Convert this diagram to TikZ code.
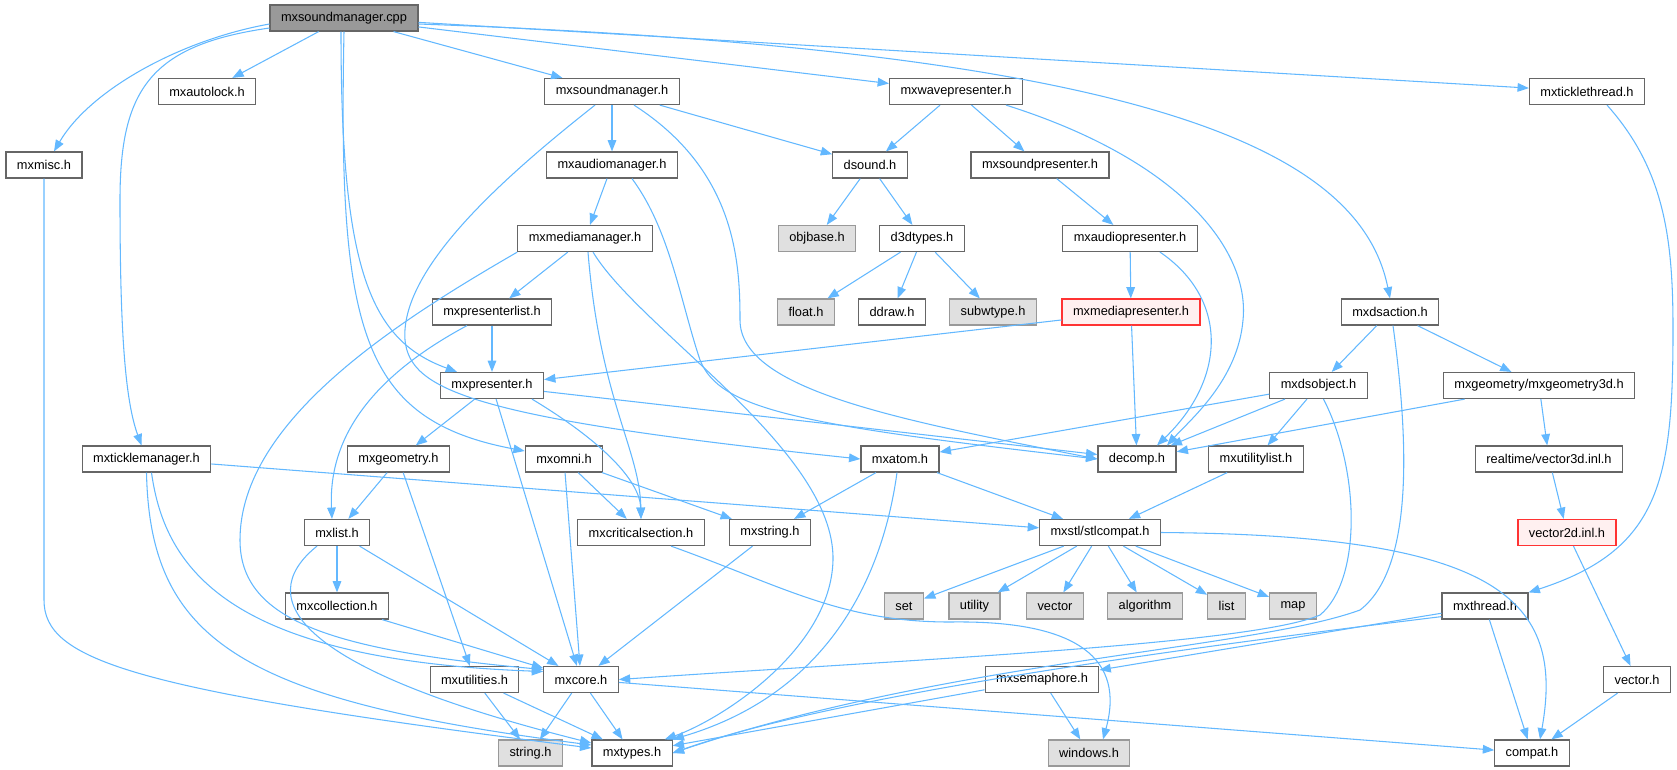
\documentclass[tikz,border=0pt]{standalone}
\usepackage{fontspec}
\setmainfont{Liberation Sans}
\usepackage{xcolor}
\usetikzlibrary{arrows.meta,calc}
\definecolor{edgeblue}{HTML}{63B8FF}
\definecolor{boxgray}{HTML}{666666}
\definecolor{sysfill}{HTML}{E0E0E0}
\definecolor{sysdraw}{HTML}{999999}
\definecolor{redfill}{HTML}{FFF0F0}
\definecolor{reddraw}{HTML}{FF3333}
\tikzstyle{hdr} = [draw=boxgray,fill=white,line width=0.9pt,rectangle,
  minimum height=19.5pt,inner xsep=8.2pt,inner ysep=0pt,
  font=\fontsize{9.6}{11}\selectfont]
\tikzstyle{syshdr} = [hdr,draw=sysdraw,fill=sysfill]
\tikzstyle{redhdr} = [hdr,draw=reddraw,fill=redfill]
\tikzstyle{roothdr} = [hdr,fill=sysdraw]
\tikzstyle{inc} = [draw=edgeblue,line width=0.8pt,
  -{Triangle[length=8.5pt,width=6.5pt]}]

\begin{document}
\begin{tikzpicture}[x=0.75pt,y=-0.75pt]
    \useasboundingbox (0,0) rectangle (1677,769);
    \node [roothdr] (cpp) at (344,18) {mxsoundmanager.cpp};
    \node [hdr] (autolock) at (207,91.5) {mxautolock.h};
    \node [hdr] (sndmgr) at (612,91.5) {mxsoundmanager.h};
    \node [hdr] (wavepres) at (956,91.5) {mxwavepresenter.h};
    \node [hdr] (tickthread) at (1587,91.5) {mxticklethread.h};
    \node [hdr] (misc) at (44,165) {mxmisc.h};
    \node [hdr] (audiomgr) at (612,165) {mxaudiomanager.h};
    \node [hdr] (dsound) at (870,165) {dsound.h};
    \node [hdr] (sndpres) at (1040,165) {mxsoundpresenter.h};
    \node [hdr] (mediamgr) at (585,238.5) {mxmediamanager.h};
    \node [syshdr] (objbase) at (817,238.5) {objbase.h};
    \node [hdr] (d3dtypes) at (922,238.5) {d3dtypes.h};
    \node [hdr] (audiopres) at (1130,238.5) {mxaudiopresenter.h};
    \node [hdr] (preslist) at (492,312) {mxpresenterlist.h};
    \node [syshdr] (floath) at (806,312) {float.h};
    \node [hdr] (ddraw) at (892,312) {ddraw.h};
    \node [syshdr] (subwtype) at (993,312) {subwtype.h};
    \node [redhdr] (mediapres) at (1131,312) {mxmediapresenter.h};
    \node [hdr] (dsaction) at (1390,312) {mxdsaction.h};
    \node [hdr] (presenter) at (492,385.5) {mxpresenter.h};
    \node [hdr] (dsobject) at (1318.5,385.5) {mxdsobject.h};
    \node [hdr] (geom3d) at (1539,385.5) {mxgeometry/mxgeometry3d.h};
    \node [hdr] (tickmgr) at (146.5,459) {mxticklemanager.h};
    \node [hdr] (geometry) at (398.5,459) {mxgeometry.h};
    \node [hdr] (omni) at (564,459) {mxomni.h};
    \node [hdr] (atom) at (900,459) {mxatom.h};
    \node [hdr] (decomp) at (1137,459) {decomp.h};
    \node [hdr] (utillist) at (1256,459) {mxutilitylist.h};
    \node [hdr] (vec3d) at (1549,459) {realtime/vector3d.inl.h};
    \node [hdr] (mxlist) at (337,532.5) {mxlist.h};
    \node [hdr] (critsec) at (641,532.5) {mxcriticalsection.h};
    \node [hdr] (mxstring) at (770,532.5) {mxstring.h};
    \node [hdr] (stlcompat) at (1100,532.5) {mxstl/stlcompat.h};
    \node [redhdr] (vec2d) at (1567,532.5) {vector2d.inl.h};
    \node [hdr] (collection) at (337,606) {mxcollection.h};
    \node [syshdr] (stdset) at (904,606) {set};
    \node [syshdr] (stdutility) at (974.5,606) {utility};
    \node [syshdr] (stdvector) at (1055,606) {vector};
    \node [syshdr] (stdalgo) at (1145,606) {algorithm};
    \node [syshdr] (stdlist) at (1226.5,606) {list};
    \node [syshdr] (stdmap) at (1293,606) {map};
    \node [hdr] (thread) at (1485,606) {mxthread.h};
    \node [hdr] (utilities) at (474.5,679.5) {mxutilities.h};
    \node [hdr] (core) at (581,679.5) {mxcore.h};
    \node [hdr] (semaphore) at (1042,679.5) {mxsemaphore.h};
    \node [hdr] (vectorh) at (1637,679.5) {vector.h};
    \node [syshdr] (stringh) at (530.5,753) {string.h};
    \node [hdr] (types) at (632,753) {mxtypes.h};
    \node [syshdr] (windows) at (1089,753) {windows.h};
    \node [hdr] (compat) at (1532,753) {compat.h};

    % includes of the .cpp
    \draw [inc] ($(cpp.west)+(0,6)$) .. controls (180,40) and (90,90) .. ($(misc.north)+(10,0)$);
    \draw [inc] ($(cpp.west)+(0,10)$) .. controls (150,45) and (120,90) .. (120,200)
      .. controls (120,330) and (125,400) .. ($(tickmgr.north)+(-5,0)$);
    \draw [inc] (cpp) -- (autolock);
    \draw [inc] ($(cpp.south)+(-3,0)$) .. controls (341,270) and (370,340) .. ($(presenter.north)+(-35,0)$);
    \draw [inc] (cpp.south) .. controls (338,330) and (360,420) .. ($(omni.west)+(0,-8)$);
    \draw [inc] (cpp) -- (sndmgr);
    \draw [inc] (cpp) -- (wavepres);
    \draw [inc] (cpp) -- (tickthread);
    \draw [inc] ($(cpp.east)+(0,6)$) .. controls (1150,50) and (1360,150) .. (dsaction.north);

    \draw [inc] (sndmgr) -- (audiomgr);
    \draw [inc] (sndmgr) -- (dsound);
    \draw [inc] ($(sndmgr.south)+(22,0)$) .. controls (735,170) and (740,260) .. (740,320)
      .. controls (740,390) and (900,420) .. (decomp.west);
    \draw [inc] ($(sndmgr.south)+(-17,0)$) .. controls (500,180) and (400,270) .. (405,340)
      .. controls (410,390) and (470,418) .. (atom.west);
    \draw [inc] (audiomgr) -- (mediamgr);
    \draw [inc] ($(audiomgr.south)+(20,0)$) .. controls (670,230) and (680,300) .. (700,360)
      .. controls (720,410) and (800,425) .. (decomp.west);
    \draw [inc] (mediamgr) -- (preslist);
    \draw [inc] ($(mediamgr.south)+(3,0)$) .. controls (600,400) and (640,450) .. (critsec.north);
    \draw [inc] ($(mediamgr.south)+(8,0)$) .. controls (640,330) and (835,450) .. (833,560)
      .. controls (831,650) and (720,720) .. ($(types.north east)+(-8,0)$);
    \draw [inc] (mediamgr.south west) .. controls (400,320) and (240,420) .. (240,540)
      .. controls (240,620) and (330,650) .. ($(core.west)+(0,-10)$);

    \draw [inc] (wavepres) -- (dsound);
    \draw [inc] (wavepres) -- (sndpres);
    \draw [inc] ($(wavepres.south)+(50,0)$) .. controls (1180,160) and (1250,250) .. (1243,320)
      .. controls (1238,380) and (1190,420) .. ($(decomp.north)+(30,0)$);
    \draw [inc] (sndpres) -- (audiopres);
    \draw [inc] (audiopres) -- (mediapres);
    \draw [inc] ($(audiopres.south)+(30,0)$) .. controls (1230,300) and (1225,380) .. ($(decomp.north)+(20,0)$);
    \draw [inc] (mediapres) -- (presenter);
    \draw [inc] (mediapres) -- (decomp);
    \draw [inc] (dsound) -- (objbase);
    \draw [inc] (dsound) -- (d3dtypes);
    \draw [inc] (d3dtypes) -- (floath);
    \draw [inc] (d3dtypes) -- (ddraw);
    \draw [inc] (d3dtypes) -- (subwtype);

    \draw [inc] (preslist) -- (presenter);
    \draw [inc] ($(preslist.south)+(-25,0)$) .. controls (375,375) and (328,435) .. ($(mxlist.north)+(-5,0)$);
    \draw [inc] (presenter) -- (geometry);
    \draw [inc] (presenter) -- (core);
    \draw [inc] ($(presenter.south)+(40,0)$) .. controls (600,440) and (640,480) .. (critsec.north);
    \draw [inc] (presenter) -- (decomp);
    \draw [inc] (geometry) -- (mxlist);
    \draw [inc] (geometry) -- (utilities);
    \draw [inc] (omni) -- (critsec);
    \draw [inc] (omni) -- (mxstring);
    \draw [inc] (omni) -- (core);

    \draw [inc] (misc.south) -- (44,600) .. controls (44,660) and (130,690) .. ($(types.west)+(0,-5)$);
    \draw [inc] (tickmgr) -- (stlcompat);
    \draw [inc] ($(tickmgr.south)+(5,0)$) .. controls (165,570) and (230,660) .. ($(core.west)+(0,-8)$);
    \draw [inc] (tickmgr.south) .. controls (150,640) and (240,700) .. ($(types.west)+(0,-8)$);
    \draw [inc] (mxlist) -- (collection);
    \draw [inc] (mxlist) -- (core);
    \draw [inc] ($(mxlist.south)+(-20,0)$) .. controls (250,600) and (300,670) .. ($(types.west)+(0,-10)$);
    \draw [inc] (collection) -- (core);
    \draw [inc] (utilities) -- (stringh);
    \draw [inc] (utilities) -- (types);
    \draw [inc] (mxstring) -- (core);
    \draw [inc] (core) -- (stringh);
    \draw [inc] (core) -- (types);
    \draw [inc] (core) -- (compat);
    \draw [inc] ($(critsec.south)+(30,0)$) .. controls (780,585) and (840,622) .. (950,622)
      .. controls (1080,620) and (1125,660) .. ($(windows.north)+(14,0)$);

    \draw [inc] (atom) -- (stlcompat);
    \draw [inc] (atom) -- (mxstring);
    \draw [inc] ($(atom.south)+(-3,0)$) .. controls (885,560) and (840,690) .. (types.north east);
    \draw [inc] (dsaction) -- (dsobject);
    \draw [inc] (dsaction) -- (geom3d);
    \draw [inc] ($(dsaction.south)+(3,0)$) .. controls (1410,450) and (1412,570) .. (1360,610)
      .. controls (1250,650) and (950,660) .. (types.east);
    \draw [inc] (dsobject) -- (atom);
    \draw [inc] (dsobject) -- (decomp);
    \draw [inc] (dsobject) -- (utillist);
    \draw [inc] ($(dsobject.south)+(5,0)$) .. controls (1360,470) and (1362,580) .. (1320,615)
      .. controls (1250,645) and (900,660) .. (core.east);
    \draw [inc] (geom3d) -- (decomp);
    \draw [inc] (geom3d) -- (vec3d);
    \draw [inc] (vec3d) -- (vec2d);
    \draw [inc] (vec2d) -- (vectorh);
    \draw [inc] (vectorh) -- (compat);
    \draw [inc] (utillist) -- (stlcompat);

    \draw [inc] (stlcompat) -- (stdset);
    \draw [inc] (stlcompat) -- (stdutility);
    \draw [inc] (stlcompat) -- (stdvector);
    \draw [inc] (stlcompat) -- (stdalgo);
    \draw [inc] (stlcompat) -- (stdlist);
    \draw [inc] (stlcompat) -- (stdmap);
    \draw [inc] (stlcompat.east) .. controls (1500,535) and (1565,600) .. ($(compat.north)+(8,0)$);

    \draw [inc] ($(tickthread.south)+(20,0)$) .. controls (1665,170) and (1673,240) .. (1673,330)
      .. controls (1673,480) and (1660,550) .. (thread.north east);
    \draw [inc] (thread) -- (semaphore);
    \draw [inc] ($(thread.south west)+(0,-3)$) .. controls (1250,640) and (850,690) .. (types.east);
    \draw [inc] (thread) -- (compat);
    \draw [inc] (semaphore) -- (windows);
    \draw [inc] (semaphore) -- (types);
  \end{tikzpicture}
\end{document}
